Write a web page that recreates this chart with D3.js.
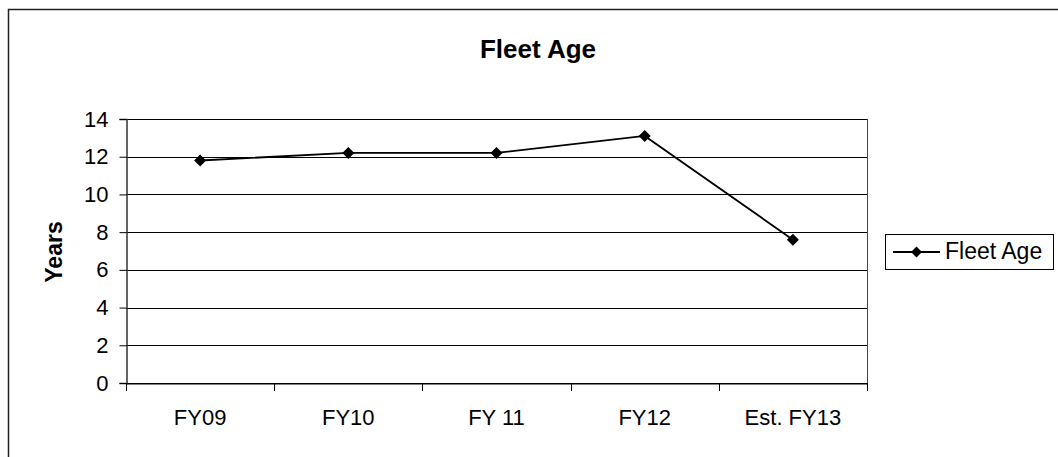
<!DOCTYPE html>
<html><head><meta charset="utf-8">
<script src="https://cdn.jsdelivr.net/npm/d3@7"></script>
<style>body{margin:0;background:#fff}svg{display:block}text{font-family:"Liberation Sans",Arial,sans-serif;fill:#000}</style>
</head><body>
<svg id="c" width="1058" height="457"></svg>
<script>
const categories = ["FY09", "FY10", "FY 11", "FY12", "Est. FY13"];
const fleetAge = [11.8, 12.2, 12.2, 13.1, 7.6];
const yTicks = [0, 2, 4, 6, 8, 10, 12, 14];
const seriesName = "Fleet Age";
const chartTitle = "Fleet Age";
const yTitle = "Years";

const svg = d3.select("#c");
const L = 126, R = 867, T = 119, B = 383;
const FF = '"Liberation Sans",Arial,sans-serif';

// outer border (top + left visible)
svg.append("path").attr("d", "M8.5,457 L8.5,9.5 L1058,9.5").attr("fill","none").attr("stroke","#222").attr("stroke-width",1.5);

const x = d3.scaleBand().domain(categories).range([L, R]).padding(0);
const y = d3.scaleLinear().domain([0, 14]).range([B, T]);

// gridlines
svg.append("g").selectAll("line").data(yTicks).join("line")
  .attr("x1", L).attr("x2", R).attr("y1", d => Math.round(y(d)) + 0.5).attr("y2", d => Math.round(y(d)) + 0.5)
  .attr("stroke", "#000").attr("stroke-width", 1);
// plot right border
svg.append("line").attr("x1", R+0.5).attr("x2", R+0.5).attr("y1", T).attr("y2", B).attr("stroke","#444");

// y axis
const ya = svg.append("g").attr("transform", `translate(${L+0.5},0)`)
  .call(d3.axisLeft(y).tickValues(yTicks).tickSize(7).tickPadding(11).tickFormat(d3.format("d")));
ya.select(".domain").attr("stroke","#333").attr("stroke-width",1.5);
ya.selectAll(".tick line").attr("stroke","#000");
ya.selectAll("text").attr("font-size", 22).attr("font-family", FF);

// x axis
const xa = svg.append("g").attr("transform", `translate(0,${B+0.5})`)
  .call(d3.axisBottom(x).tickSize(0).tickPadding(26));
xa.select(".domain").attr("stroke","#000");
xa.selectAll("text").attr("font-size", 22).attr("font-family", FF);
// x tick marks at category boundaries
const bounds = categories.map(c => x(c)).concat([x(categories[categories.length-1]) + x.bandwidth()]);
svg.append("g").selectAll("line").data(bounds).join("line")
  .attr("x1", d => Math.round(d)+0.5).attr("x2", d => Math.round(d)+0.5)
  .attr("y1", B).attr("y2", B + 8).attr("stroke","#000");

// line series
const cx = d => x(d) + x.bandwidth()/2;
const line = d3.line().x((d,i) => cx(categories[i])).y(d => y(d));
svg.append("path").datum(fleetAge).attr("d", line).attr("fill","none").attr("stroke","#000").attr("stroke-width",1.8);
svg.append("g").selectAll("path").data(fleetAge).join("path")
  .attr("transform", (d,i) => `translate(${cx(categories[i])},${y(d)}) rotate(45)`)
  .attr("d", d3.symbol().type(d3.symbolSquare).size(72)).attr("fill","#000");

// title
svg.append("text").attr("x", 538).attr("y", 58).attr("text-anchor","middle")
  .attr("font-size", 26).attr("font-weight","bold").text(chartTitle);
// y title
svg.append("text").attr("transform","translate(62,252) rotate(-90)").attr("text-anchor","middle")
  .attr("font-size", 23).attr("font-weight","bold").text(yTitle);

// legend
const lg = svg.append("g");
lg.append("rect").attr("x", 885.5).attr("y", 234.5).attr("width", 168).attr("height", 35)
  .attr("fill","#fff").attr("stroke","#000");
lg.append("line").attr("x1", 893).attr("x2", 940).attr("y1", 252).attr("y2", 252).attr("stroke","#000").attr("stroke-width",1.8);
lg.append("path").attr("transform","translate(916.5,252) rotate(45)").attr("d", d3.symbol().type(d3.symbolSquare).size(60)).attr("fill","#000");
lg.append("text").attr("x", 945).attr("y", 259).attr("font-size", 23).text(seriesName);
</script>
</body></html>
